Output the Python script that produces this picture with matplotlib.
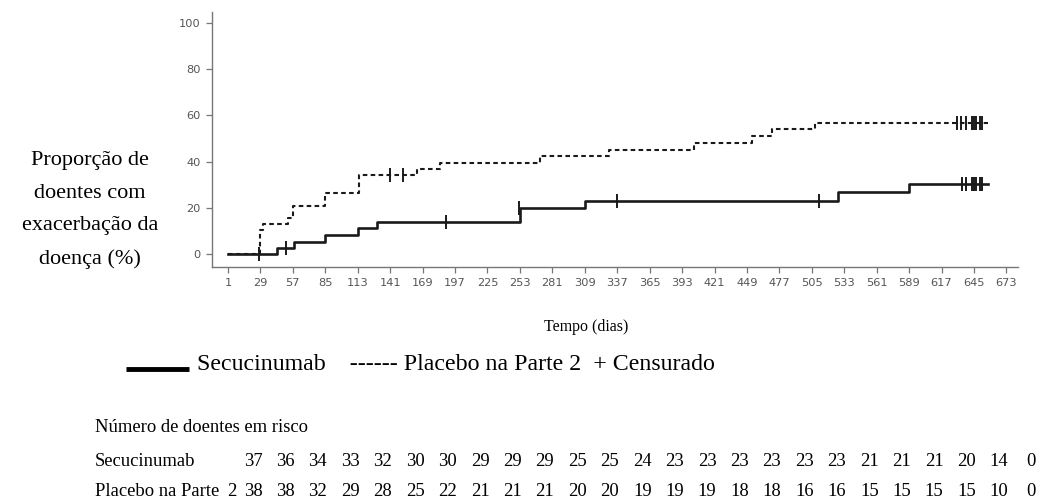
import numpy as np
import matplotlib
matplotlib.use("Agg")
import matplotlib.pyplot as plt
from matplotlib.lines import Line2D
from matplotlib import transforms

# Kaplan-Meier style cumulative curves (days, % with exacerbation)
secu_days = [1, 43, 58, 85, 113, 130, 253, 309, 528, 589, 657]
secu_pct = [0, 2.7, 5.4, 8.2, 11.1, 14.0, 20.0, 23.1, 26.8, 30.2, 30.2]
secu_cens_days = [28, 51, 189, 252, 337, 511, 635, 638, 643, 645, 647, 650, 652]
secu_cens_pct = [0, 2.7, 14.0, 20.0, 23.1, 23.1, 30.2, 30.2, 30.2, 30.2, 30.2, 30.2, 30.2]

plac_days = [1, 29, 31, 53, 57, 85, 114, 164, 184, 270, 330, 403, 453, 471, 508, 657]
plac_pct = [0, 10.5, 13.2, 15.8, 21.0, 26.3, 34.2, 36.8, 39.5, 42.5, 45.2, 48.0,
            50.9, 54.0, 56.8, 56.8]
plac_cens_days = [141, 152, 630, 634, 638, 643, 645, 647, 650, 652]
plac_cens_pct = [34.2, 34.2, 56.8, 56.8, 56.8, 56.8, 56.8, 56.8, 56.8, 56.8]

tick_days = list(range(1, 674, 28))
secu_at_risk = [37, 36, 34, 33, 32, 30, 30, 29, 29, 29, 25, 25, 24, 23, 23, 23, 23,
                23, 23, 21, 21, 21, 20, 14, 0]
plac_at_risk = [38, 38, 32, 29, 28, 25, 22, 21, 21, 21, 20, 20, 19, 19, 19, 18, 18,
                16, 16, 15, 15, 15, 15, 10, 0]

SERIF = "Liberation Serif"
W, H = 1040, 504

fig = plt.figure(figsize=(W / 100, H / 100), dpi=100)
ax = fig.add_axes([212 / W, 1 - 267 / H, (1018 - 212) / W, (267 - 12) / H])

ax.step(secu_days, secu_pct, where="post", color="#1a1a1a", lw=1.9)
ax.step(plac_days, plac_pct, where="post", color="#1a1a1a", lw=1.5,
        linestyle=(0, (2.2, 1.6)))
ax.plot(secu_cens_days, secu_cens_pct, ls="none", marker="|", ms=10, mew=1.4,
        color="#1a1a1a")
ax.plot(plac_cens_days, plac_cens_pct, ls="none", marker="|", ms=10, mew=1.4,
        color="#1a1a1a")

ax.set_xlim(-12.8, 683)
ax.set_ylim(-5.6, 104.8)
ax.set_xticks(tick_days)
ax.set_yticks(range(0, 101, 20))
for s in ["top", "right"]:
    ax.spines[s].set_visible(False)
for s in ["left", "bottom"]:
    ax.spines[s].set_color("#777777")
    ax.spines[s].set_linewidth(1.0)
ax.tick_params(axis="both", direction="out", length=4, width=0.9,
               colors="#777777", labelcolor="#555555", labelsize=8.2, pad=4)

fig.text(90 / W, 1 - 210 / H, "Proporção de\ndoentes com\nexacerbação da\ndoença (%)",
         ha="center", va="center", fontsize=16, family=SERIF, linespacing=1.95)
fig.text(586 / W, 1 - 327 / H, "Tempo (dias)", ha="center", va="center",
         fontsize=11.4, family=SERIF)

# legend line
fig.add_artist(Line2D([126 / W, 189 / W], [1 - 369 / H, 1 - 369 / H],
                      transform=fig.transFigure, color="black", lw=3.5,
                      solid_capstyle="butt"))
fig.text(197 / W, 1 - 365 / H,
         "Secucinumab    ------ Placebo na Parte 2  + Censurado",
         ha="left", va="center", fontsize=17.2, family=SERIF)

# at-risk table
fig.text(95 / W, 1 - 427 / H, "Número de doentes em risco", ha="left",
         va="center", fontsize=13.4, family=SERIF)
fig.text(95 / W, 1 - 461 / H, "Secucinumab", ha="left", va="center",
         fontsize=13.4, family=SERIF)
fig.text(95 / W, 1 - 492 / H, "Placebo na Parte", ha="left", va="center",
         fontsize=13.4, family=SERIF)
fig.text(232 / W, 1 - 492 / H, "2", ha="center", va="center",
         fontsize=13.4, family=SERIF)

col_tr = transforms.blended_transform_factory(ax.transData, fig.transFigure) + \
    transforms.ScaledTranslation(25 / 100, 0, fig.dpi_scale_trans)
for d, a, b in zip(tick_days, secu_at_risk, plac_at_risk):
    fig.text(d, 1 - 461 / H, str(a), transform=col_tr, ha="center", va="center",
             fontsize=13.4, family=SERIF)
    fig.text(d, 1 - 492 / H, str(b), transform=col_tr, ha="center", va="center",
             fontsize=13.4, family=SERIF)

fig.savefig("out.png", dpi=100)
